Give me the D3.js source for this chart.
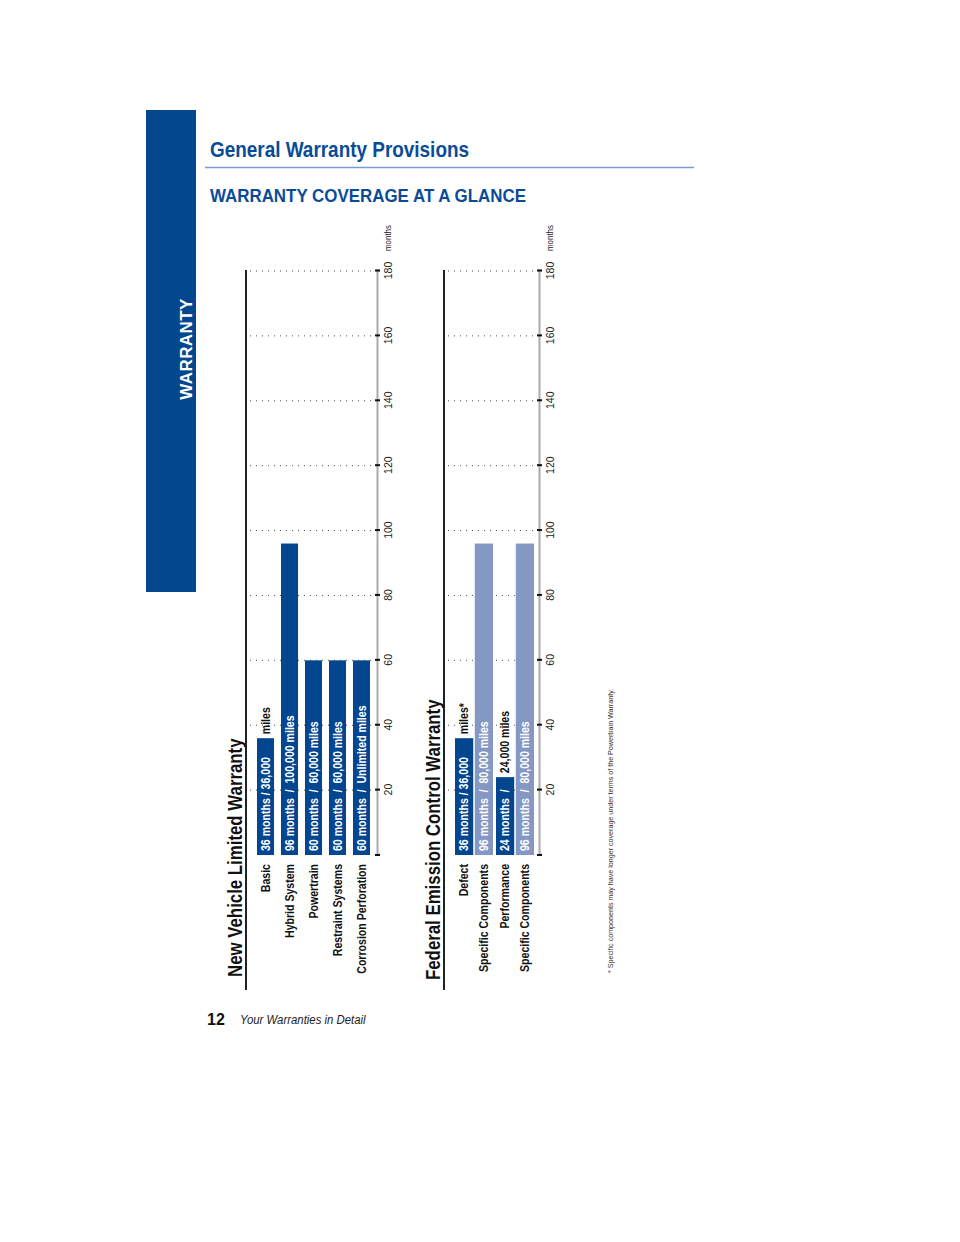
<!DOCTYPE html>
<html>
<head>
<meta charset="utf-8">
<script src="https://cdn.jsdelivr.net/npm/d3@7"></script>
<style>
  body { margin: 0; background: #fff; }
  svg text { font-family: "Liberation Sans", Arial, sans-serif; }
  .tick text { font-size: 10.5px; fill: #222; }
</style>
</head>
<body>
<div id="page"></div>
<script>
// Chart values
var monthTicks = [20, 40, 60, 80, 100, 120, 140, 160, 180];

var nvCategories = ["Basic", "Hybrid System", "Powertrain", "Restraint Systems", "Corrosion Perforation"];
var nvMonths = [36, 96, 60, 60, 60];
var nvInside = ["36 months / 36,000", "96 months  /  100,000 miles", "60 months  /  60,000 miles", "60 months  /  60,000 miles", "60 months  /  Unlimited miles"];
var nvOutside = ["miles", "", "", "", ""];

var feGroups = ["Defect", "Performance"];
var feKinds = ["warranty", "components"];
var feCategories = ["Defect", "Specific Components", "Performance", "Specific Components"];
var feMonths = [36, 96, 24, 96];
var feInside = ["36 months / 36,000", "96 months  /  80,000 miles", "24 months  /", "96 months  /  80,000 miles"];
var feOutside = ["miles*", "", "24,000 miles", ""];

var darkBlue = "#02468f";
var lightBlue = "#8598c4";

var svgWidth = 960;
var svgHeight = 1242;

// no condensed font installed: squeeze text to look like Helvetica Condensed
function condense(sel, k) {
  sel.each(function () {
    var len = this.getComputedTextLength();
    d3.select(this)
      .attr("textLength", len * k)
      .attr("lengthAdjust", "spacingAndGlyphs");
  });
  return sel;
}

var svg = d3.select("#page")
  .append("svg")
  .attr("width", svgWidth)
  .attr("height", svgHeight);

// side tab
svg.append("rect")
  .attr("x", 146).attr("y", 110)
  .attr("width", 50).attr("height", 482)
  .attr("fill", "#03478f");

svg.append("text")
  .attr("transform", "translate(192, 349) rotate(-90)")
  .attr("text-anchor", "middle")
  .attr("font-weight", "bold")
  .attr("font-size", 17)
  .attr("letter-spacing", 0.4)
  .attr("fill", "#fff")
  .text("WARRANTY");

// page headers
svg.append("text")
  .attr("x", 210).attr("y", 157)
  .attr("font-size", 22)
  .attr("font-weight", "bold")
  .attr("fill", "#0a4b98")
  .text("General Warranty Provisions")
  .call(condense, 0.86);

svg.append("line")
  .attr("x1", 205).attr("x2", 694)
  .attr("y1", 167.5).attr("y2", 167.5)
  .attr("stroke", "#7d9cca")
  .attr("stroke-width", 1.5);

svg.append("text")
  .attr("x", 210).attr("y", 202)
  .attr("font-size", 19)
  .attr("font-weight", "bold")
  .attr("fill", "#0a4b98")
  .text("WARRANTY COVERAGE AT A GLANCE")
  .call(condense, 0.89);

// x scale shared by both charts (local x = months, goes up the page)
var xScale = d3.scaleLinear()
  .domain([0, 180])
  .range([0, 584]);

// draws one rotated chart; local y runs right across the page
function drawChart(opts) {
  var g = svg.append("g")
    .attr("transform", `translate(${opts.left}, 855) rotate(-90)`);

  // frame line at the left
  g.append("line")
    .attr("x1", -135).attr("x2", xScale(180) + 1)
    .attr("y1", 0).attr("y2", 0)
    .attr("stroke", "#222")
    .attr("stroke-width", 2);

  // title
  g.append("text")
    .attr("x", opts.titleX)
    .attr("y", -4)
    .attr("font-size", 20.5)
    .attr("font-weight", "bold")
    .attr("fill", "#111")
    .text(opts.title)
    .call(condense, 0.82);

  // dotted grid
  g.selectAll(".grid")
    .data(monthTicks)
    .enter()
    .append("line")
    .attr("class", "grid")
    .attr("x1", d => xScale(d)).attr("x2", d => xScale(d))
    .attr("y1", 4).attr("y2", opts.axisY)
    .attr("stroke", "#555")
    .attr("stroke-width", 1)
    .attr("stroke-dasharray", "1,5");

  // bars
  g.selectAll(".bar")
    .data(opts.months)
    .enter()
    .append("rect")
    .attr("class", "bar")
    .attr("x", 0)
    .attr("y", (d, i) => opts.pos(i))
    .attr("width", d => xScale(d))
    .attr("height", opts.bw)
    .attr("fill", (d, i) => opts.color(i));

  // text inside bars
  g.selectAll(".inside")
    .data(opts.inside)
    .enter()
    .append("text")
    .attr("class", "inside")
    .attr("x", 4)
    .attr("y", (d, i) => opts.pos(i) + opts.bw / 2)
    .attr("dy", "0.36em")
    .attr("font-size", 12)
    .attr("font-weight", "bold")
    .attr("fill", "#fff")
    .style("white-space", "pre")
    .text(d => d)
    .call(condense, 0.88);

  // continuation of text past the bar end
  g.selectAll(".outside")
    .data(opts.outside)
    .enter()
    .append("text")
    .attr("class", "outside")
    .attr("x", (d, i) => xScale(opts.months[i]) + 4)
    .attr("y", (d, i) => opts.pos(i) + opts.bw / 2)
    .attr("dy", "0.36em")
    .attr("font-size", 12)
    .attr("font-weight", "bold")
    .attr("fill", "#111")
    .text(d => d)
    .call(condense, 0.88);

  // category labels
  g.selectAll(".cat")
    .data(opts.categories)
    .enter()
    .append("text")
    .attr("class", "cat")
    .attr("x", -9)
    .attr("y", (d, i) => opts.pos(i) + opts.bw / 2)
    .attr("dy", "0.36em")
    .attr("text-anchor", "end")
    .attr("font-size", 12)
    .attr("font-weight", "bold")
    .attr("fill", "#111")
    .text(d => d)
    .call(condense, 0.88);

  // month axis
  var axis = d3.axisBottom(xScale)
    .tickValues(monthTicks)
    .tickSize(3)
    .tickPadding(5);

  var axisG = g.append("g")
    .attr("transform", `translate(0, ${opts.axisY})`)
    .call(axis);

  axisG.select(".domain")
    .attr("stroke", "#aaa")
    .attr("stroke-width", 2);
  axisG.selectAll(".tick line")
    .attr("y1", -2)
    .attr("stroke", "#111")
    .attr("stroke-width", 2);
  axisG.attr("font-family", null);

  // small tick at zero
  axisG.append("line")
    .attr("x1", 0).attr("x2", 0)
    .attr("y1", -2).attr("y2", 3)
    .attr("stroke", "#111")
    .attr("stroke-width", 2);

  axisG.append("text")
    .attr("x", xScale.range()[1] + 33)
    .attr("y", 8)
    .attr("dy", "0.71em")
    .attr("text-anchor", "middle")
    .attr("font-size", 9)
    .attr("fill", "#222")
    .text("months")
    .call(condense, 0.88);
}

// New Vehicle Limited Warranty
var nvBand = d3.scaleBand()
  .domain(nvCategories)
  .range([11, 124])
  .paddingInner(0.29);

drawChart({
  left: 246,
  axisY: 131,
  title: "New Vehicle Limited Warranty",
  titleX: -122,
  categories: nvCategories,
  months: nvMonths,
  inside: nvInside,
  outside: nvOutside,
  pos: i => nvBand(nvCategories[i]),
  bw: nvBand.bandwidth(),
  color: i => darkBlue
});

// Federal Emission Control Warranty (pairs of bars)
var feOuter = d3.scaleBand()
  .domain(feGroups)
  .range([11, 90])
  .paddingInner(0.073);

var feInner = d3.scaleBand()
  .domain(feKinds)
  .range([0, feOuter.bandwidth()])
  .paddingInner(0.08);

drawChart({
  left: 444,
  axisY: 95,
  title: "Federal Emission Control Warranty",
  titleX: -125,
  categories: feCategories,
  months: feMonths,
  inside: feInside,
  outside: feOutside,
  pos: i => feOuter(feGroups[Math.floor(i / 2)]) + feInner(feKinds[i % 2]),
  bw: feInner.bandwidth(),
  color: i => (i % 2 === 0 ? darkBlue : lightBlue)
});

// footnote
svg.append("text")
  .attr("transform", "translate(613, 973) rotate(-90)")
  .attr("font-size", 8)
  .attr("fill", "#333")
  .text("* Specific components may have longer coverage under terms of the Powertrain Warranty.")
  .call(condense, 0.89);

// page footer
svg.append("text")
  .attr("x", 207).attr("y", 1025)
  .attr("font-size", 16)
  .attr("font-weight", "bold")
  .attr("fill", "#111")
  .text("12");

svg.append("text")
  .attr("x", 240).attr("y", 1024)
  .attr("font-size", 12.5)
  .attr("font-style", "italic")
  .attr("fill", "#222")
  .text("Your Warranties in Detail")
  .call(condense, 0.91);
</script>
</body>
</html>
